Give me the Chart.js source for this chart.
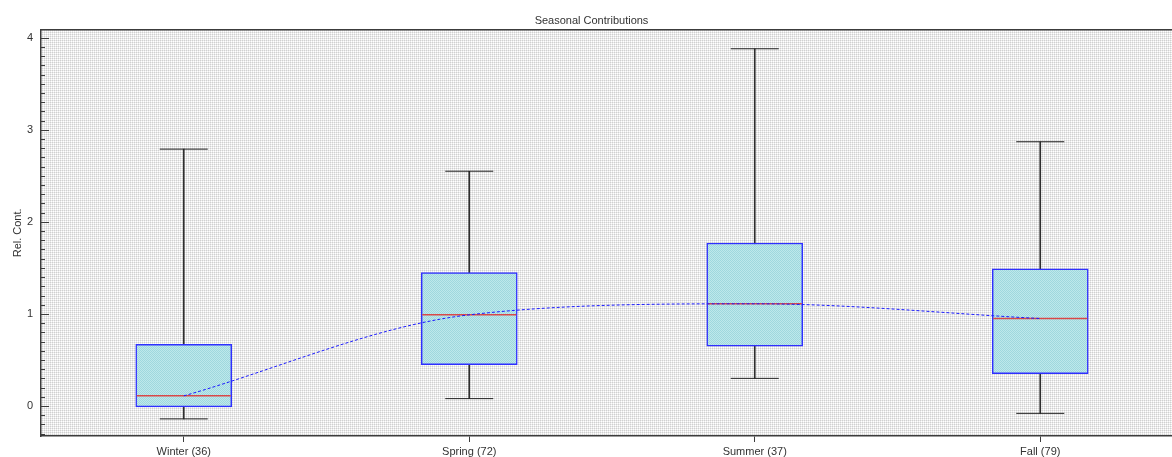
<!DOCTYPE html>
<html>
<head>
<meta charset="utf-8">
<title>Seasonal Contributions</title>
<script src="https://cdn.jsdelivr.net/npm/chart.js@4.4.1/dist/chart.umd.min.js"></script>
<style>
    html, body { margin: 0; padding: 0; background: #fff; overflow: hidden; }
    #wrap { width: 1224px; height: 457px; position: relative; }
</style>
</head>
<body>
<div id="wrap"><canvas id="chart"></canvas></div>
<script>
// Categories (number of samples in brackets)
const seasons = ['Winter (36)', 'Spring (72)', 'Summer (37)', 'Fall (79)'];

// Box plot stats
const whiskerLow  = [-0.14, 0.08, 0.30, -0.08];
const quart1      = [-0.01, 0.45, 0.65, 0.35];
const medians     = [0.11, 0.99, 1.11, 0.95];
const quart3      = [0.67, 1.45, 1.77, 1.49];
const whiskerHigh = [2.79, 2.55, 3.88, 2.87];

// Axis range, minor tick step
const Y_MIN = -0.326;
const Y_MAX = 4.087;
const MINOR_STEP = 0.1;

const FONT = { family: '"Liberation Sans", Arial, sans-serif', size: 11 };
const TEXT = '#333333';
const AXIS = '#3c3c3c';

// Small 2x2 dither tiles like the original picture
function makePattern(cols) {
    const cv = document.createElement('canvas');
    cv.width = 2; cv.height = 2;
    const g = cv.getContext('2d');
    cols.forEach((c, i) => {
        g.fillStyle = c;
        g.fillRect(i % 2, Math.floor(i / 2), 1, 1);
    });
    return g.createPattern(cv, 'repeat');
}
const plotPattern = makePattern(['#d0d0d0', '#eaeaea', '#eaeaea', '#ffffff']);
const boxPattern = makePattern(['#9fd8de', '#bee8eb', '#bee8eb', '#9fd8de']);

const isStep = (v, step) => Math.abs(v / step - Math.round(v / step)) < 1e-6;

// background, top frame line and inward y ticks
const framePlugin = {
    id: 'frame',
    beforeDraw(chart) {
        const { ctx, chartArea: a } = chart;
        ctx.save();
        ctx.fillStyle = '#ffffff';
        ctx.fillRect(0, 0, chart.width, chart.height);
        ctx.fillStyle = plotPattern;
        ctx.fillRect(a.left, a.top, a.right - a.left, a.bottom - a.top);
        ctx.restore();
    },
    afterDraw(chart) {
        const { ctx, chartArea: a } = chart;
        const y = chart.scales.y;
        ctx.save();
        ctx.strokeStyle = AXIS;
        ctx.lineWidth = 1.5;
        ctx.beginPath();
        ctx.moveTo(a.left, a.top);
        ctx.lineTo(a.right, a.top);
        ctx.stroke();
        ctx.lineWidth = 1;
        ctx.beginPath();
        y.ticks.forEach(t => {
            if (!isStep(t.value, MINOR_STEP)) return;
            const major = isStep(t.value, 1);
            const py = Math.round(y.getPixelForValue(t.value)) + 0.5;
            ctx.moveTo(a.left, py);
            ctx.lineTo(a.left + (major ? 8 : 4), py);
        });
        ctx.stroke();
        ctx.restore();
    }
};

const ctx = document.getElementById('chart').getContext('2d');
new Chart(ctx, {
    type: 'bar',
    data: {
        labels: seasons,
        datasets: [
            {
                // whisker stems, drawn behind the boxes
                label: 'Range',
                data: seasons.map((_, i) => [whiskerLow[i], whiskerHigh[i]]),
                backgroundColor: '#2e2e2e',
                borderWidth: 0,
                barThickness: 1,
                grouped: false,
                order: 6
            },
            {
                label: 'IQR',
                data: seasons.map((_, i) => [quart1[i], quart3[i]]),
                backgroundColor: boxPattern,
                borderColor: '#2f2fff',
                borderWidth: 1.5,
                borderSkipped: false,
                barThickness: 96,
                grouped: false,
                order: 5
            },
            {
                type: 'line',
                label: 'Low cap',
                data: whiskerLow,
                showLine: false,
                pointStyle: 'line',
                pointRadius: 24,
                pointHoverRadius: 24,
                pointBorderColor: '#222222',
                pointBorderWidth: 1,
                order: 4
            },
            {
                type: 'line',
                label: 'High cap',
                data: whiskerHigh,
                showLine: false,
                pointStyle: 'line',
                pointRadius: 24,
                pointHoverRadius: 24,
                pointBorderColor: '#222222',
                pointBorderWidth: 1,
                order: 3
            },
            {
                type: 'line',
                label: 'Median',
                data: medians,
                showLine: false,
                pointStyle: 'line',
                pointRadius: 47,
                pointHoverRadius: 47,
                pointBorderColor: '#d94848',
                pointBorderWidth: 1.5,
                order: 2
            },
            {
                type: 'line',
                label: 'Trend',
                data: medians,
                borderColor: '#1c1cff',
                borderWidth: 1,
                borderDash: [3, 2],
                cubicInterpolationMode: 'monotone',
                pointRadius: 0,
                fill: false,
                order: 1
            }
        ]
    },
    options: {
        responsive: true,
        maintainAspectRatio: false,
        animation: false,
        layout: { autoPadding: false, padding: { left: 0, right: 41, top: 0, bottom: 0 } },
        plugins: {
            legend: { display: false },
            tooltip: { enabled: false },
            title: {
                display: true,
                text: 'Seasonal Contributions',
                color: TEXT,
                font: { ...FONT, weight: 'normal' },
                padding: { top: 14.5, bottom: 2 }
            }
        },
        scales: {
            x: {
                offset: true,
                grid: {
                    offset: false,
                    drawOnChartArea: false,
                    drawTicks: true,
                    tickLength: 6,
                    color: AXIS
                },
                border: { display: true, color: AXIS, width: 1.5 },
                ticks: { color: TEXT, font: FONT, padding: 3, maxRotation: 0 },
                afterFit: s => { s.height = 21; }
            },
            y: {
                min: Y_MIN,
                max: Y_MAX,
                grid: { drawOnChartArea: false, drawTicks: false },
                border: { display: true, color: AXIS, width: 1.5 },
                ticks: {
                    stepSize: MINOR_STEP,
                    autoSkip: false,
                    includeBounds: false,
                    padding: 8,
                    color: TEXT,
                    font: FONT,
                    callback: v => isStep(v, 1) ? String(Math.round(v)) : ''
                },
                title: {
                    display: true,
                    text: 'Rel. Cont.',
                    color: TEXT,
                    font: FONT,
                    padding: { top: 11, bottom: 0 }
                },
                afterFit: s => { s.width = 41; }
            }
        }
    },
    plugins: [framePlugin]
});
</script>
</body>
</html>
